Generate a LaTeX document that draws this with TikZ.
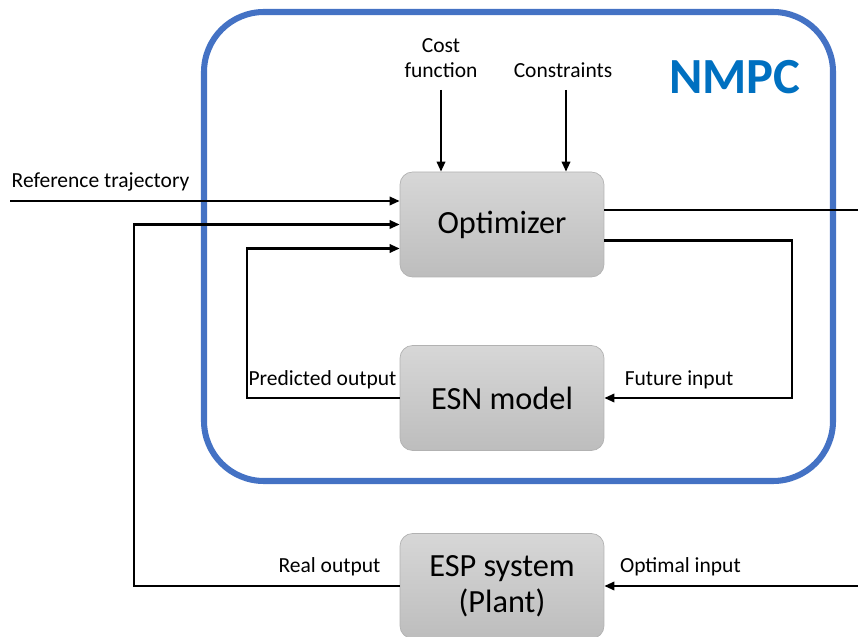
\documentclass[tikz,border=0pt]{standalone}
\usepackage{fontspec}
\setmainfont{Carlito}
\usetikzlibrary{positioning,arrows.meta,calc}
\definecolor{ink}{HTML}{000000}
\definecolor{cFrame}{HTML}{4472C4}
\definecolor{cTitle}{HTML}{0070C0}
\definecolor{cBoxTop}{HTML}{D7D7D7}
\definecolor{cBoxBot}{HTML}{BDBDBD}
\definecolor{cBoxLine}{HTML}{B2B2B2}
\tikzset{
  blk/.style   = {rounded corners=9pt, align=center, font=\fontsize{23}{25.6}\selectfont, text=ink,
                  top color=cBoxTop, bottom color=cBoxBot, draw=cBoxLine, line width=0.5pt,
                  minimum width=5.1cm, minimum height=2.625cm},
  frame/.style = {rounded corners=1.5cm, draw=cFrame, line width=4.3pt, inner sep=0pt,
                  minimum width=15.725cm, minimum height=11.725cm},
  ttl/.style   = {font=\fontsize{36}{40}\selectfont\bfseries, text=cTitle},
  lab/.style   = {font=\fontsize{15.3}{18}\selectfont, text=ink, align=center, inner sep=1pt},
  ar/.style    = {-{Triangle[length=2.5mm,width=2.1mm]}, line width=1.5pt, draw=ink},
}

\begin{document}
\begin{tikzpicture}
  \useasboundingbox (0,0) rectangle (21.45,15.9);

  % controller frame
  \node[frame] (nmpcbox) at (12.9625,9.7375) {};
  \node[ttl, anchor=base] (nmpc) at (18.375,13.55) {NMPC};

  % blocks
  \node[blk] (opt) at (12.55,10.2875) {Optimizer};
  \node[blk] (esn) at (12.55,5.95) {ESN model};
  \node[blk] (esp) at (12.55,1.25) {ESP system\\(Plant)};

  % inputs from above
  \node[lab, anchor=base] (cost) at (11.025,13.95) {Cost\\function};
  \node[lab, anchor=base] (cons) at (14.075,13.95) {Constraints};
  \draw[ar] (11.025,13.65) coordinate (costin) -- (costin |- opt.north);
  \draw[ar] (14.15,13.65) coordinate (consin) -- (consin |- opt.north);

  % reference
  \coordinate (refin) at (0.25,10.875);
  \node[lab, anchor=base west] (reflab) at (0.25,11.2) {Reference trajectory};
  \draw[ar] (refin) -- (refin -| opt.west);

  % feedback loops
  \draw[ar] (esp.west) node[lab, anchor=base east, xshift=-0.42cm, yshift=0.33cm] {Real output}
    -- ++(-6.65,0) |- (opt.west);
  \draw[ar] (esn.west) node[lab, anchor=base east, xshift=-0.02cm, yshift=0.3cm] {Predicted output}
    -- ++(-3.825,0) |- ([yshift=-0.6cm]opt.west);

  % optimizer outputs
  \draw[ar] ([yshift=-0.4cm]opt.east) -- ++(4.7,0) |- (esn.east)
    node[lab, anchor=base west, xshift=0.45cm, yshift=0.3cm] {Future input};
  \draw[ar] ([yshift=0.36cm]opt.east) -- ++(6.45,0) |- (esp.east)
    node[lab, anchor=base west, xshift=0.33cm, yshift=0.33cm] {Optimal input};
\end{tikzpicture}
\end{document}
